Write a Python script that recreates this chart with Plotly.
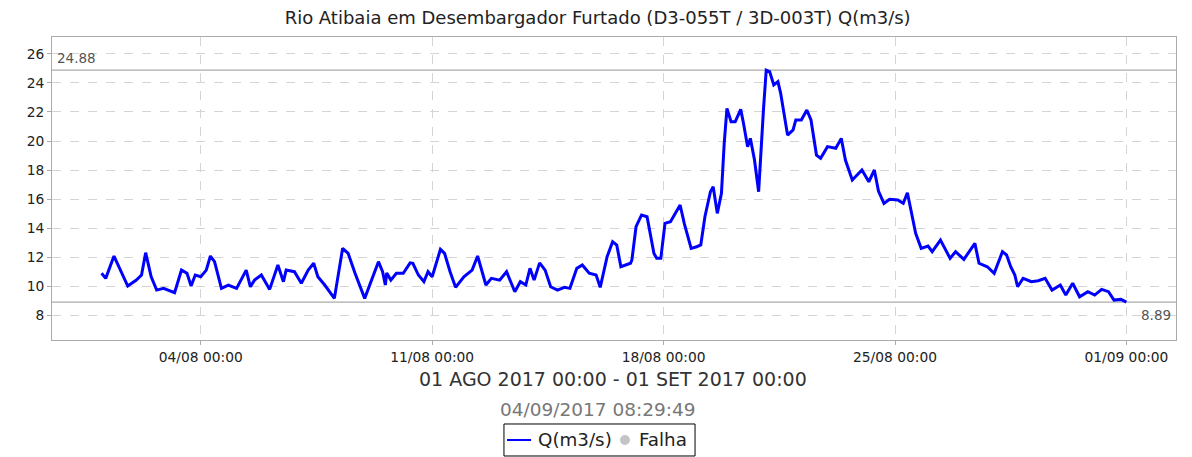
"""Vazão do Rio Atibaia em Desembargador Furtado — agosto 2017."""

import pandas as pd
import plotly.graph_objects as go

# ── Data ──────────────────────────────────────────────────────────────
times = [
    "2017-08-01 00:00", "2017-08-01 03:00", "2017-08-01 09:00", "2017-08-01 13:00",
    "2017-08-01 19:00", "2017-08-02 01:00", "2017-08-02 05:00", "2017-08-02 08:00",
    "2017-08-02 12:00", "2017-08-02 16:00", "2017-08-02 21:00", "2017-08-03 05:00",
    "2017-08-03 10:00", "2017-08-03 14:00", "2017-08-03 17:00", "2017-08-03 20:00",
    "2017-08-04 00:00", "2017-08-04 04:00", "2017-08-04 07:00", "2017-08-04 10:00",
    "2017-08-04 15:00", "2017-08-04 20:00", "2017-08-05 02:00", "2017-08-05 09:00",
    "2017-08-05 12:00", "2017-08-05 15:00", "2017-08-05 20:00", "2017-08-06 02:00",
    "2017-08-06 08:00", "2017-08-06 12:00", "2017-08-06 14:00", "2017-08-06 20:00",
    "2017-08-07 01:00", "2017-08-07 06:00", "2017-08-07 10:00", "2017-08-07 13:00",
    "2017-08-07 18:00", "2017-08-08 01:00", "2017-08-08 07:00", "2017-08-08 11:00",
    "2017-08-08 16:00", "2017-08-08 23:00", "2017-08-09 05:00", "2017-08-09 09:00",
    "2017-08-09 12:00", "2017-08-09 14:00", "2017-08-09 15:00", "2017-08-09 18:00",
    "2017-08-09 22:00", "2017-08-10 03:00", "2017-08-10 08:00", "2017-08-10 10:00",
    "2017-08-10 14:00", "2017-08-10 18:00", "2017-08-10 21:00", "2017-08-11 00:00",
    "2017-08-11 06:00", "2017-08-11 09:00", "2017-08-11 13:00", "2017-08-11 17:00",
    "2017-08-11 23:00", "2017-08-12 05:00", "2017-08-12 09:00", "2017-08-12 12:00",
    "2017-08-12 15:00", "2017-08-12 19:00", "2017-08-13 01:00", "2017-08-13 06:00",
    "2017-08-13 09:00", "2017-08-13 12:00", "2017-08-13 16:00", "2017-08-13 20:00",
    "2017-08-13 23:00", "2017-08-14 02:00", "2017-08-14 06:00", "2017-08-14 10:00",
    "2017-08-14 14:00", "2017-08-14 19:00", "2017-08-15 00:00", "2017-08-15 04:00",
    "2017-08-15 09:00", "2017-08-15 13:00", "2017-08-15 18:00", "2017-08-15 23:00",
    "2017-08-16 02:00", "2017-08-16 07:00", "2017-08-16 11:00", "2017-08-16 14:00",
    "2017-08-16 17:00", "2017-08-16 20:00", "2017-08-17 00:00", "2017-08-17 01:00",
    "2017-08-17 04:00", "2017-08-17 08:00", "2017-08-17 12:00", "2017-08-17 17:00",
    "2017-08-17 19:00", "2017-08-17 22:00", "2017-08-18 01:00", "2017-08-18 05:00",
    "2017-08-18 09:00", "2017-08-18 12:00", "2017-08-18 15:00", "2017-08-18 20:00",
    "2017-08-19 00:00", "2017-08-19 03:00", "2017-08-19 06:00", "2017-08-19 10:00",
    "2017-08-19 12:00", "2017-08-19 15:00", "2017-08-19 18:00", "2017-08-19 20:00",
    "2017-08-19 22:00", "2017-08-20 01:00", "2017-08-20 04:00", "2017-08-20 08:00",
    "2017-08-20 10:00", "2017-08-20 13:00", "2017-08-20 15:00", "2017-08-20 18:00",
    "2017-08-20 21:00", "2017-08-20 23:00", "2017-08-21 00:30", "2017-08-21 02:30",
    "2017-08-21 05:00", "2017-08-21 08:00", "2017-08-21 11:00", "2017-08-21 13:00",
    "2017-08-21 18:00", "2017-08-21 22:00", "2017-08-22 00:00", "2017-08-22 04:00",
    "2017-08-22 08:00", "2017-08-22 11:00", "2017-08-22 15:00", "2017-08-22 18:00",
    "2017-08-22 23:00", "2017-08-23 05:00", "2017-08-23 09:00", "2017-08-23 12:00",
    "2017-08-23 17:00", "2017-08-24 00:00", "2017-08-24 05:00", "2017-08-24 09:00",
    "2017-08-24 12:00", "2017-08-24 16:00", "2017-08-24 20:00", "2017-08-25 02:00",
    "2017-08-25 06:00", "2017-08-25 09:00", "2017-08-25 13:00", "2017-08-25 15:00",
    "2017-08-25 19:00", "2017-08-26 00:00", "2017-08-26 03:00", "2017-08-26 09:00",
    "2017-08-26 16:00", "2017-08-26 20:00", "2017-08-27 02:00", "2017-08-27 06:00",
    "2017-08-27 10:00", "2017-08-27 13:00", "2017-08-27 19:00", "2017-08-28 00:00",
    "2017-08-28 04:00", "2017-08-28 06:00", "2017-08-28 09:00", "2017-08-28 12:00",
    "2017-08-28 15:00", "2017-08-28 17:00", "2017-08-28 21:00", "2017-08-29 03:00",
    "2017-08-29 08:00", "2017-08-29 13:00", "2017-08-29 18:00", "2017-08-30 00:00",
    "2017-08-30 04:00", "2017-08-30 09:00", "2017-08-30 14:00", "2017-08-30 20:00",
    "2017-08-31 01:00", "2017-08-31 06:00", "2017-08-31 11:00", "2017-08-31 15:00",
    "2017-08-31 20:00", "2017-09-01 00:00",
]
vazao = [
    10.88, 10.53, 12.07, 11.20, 10.00, 10.40, 10.76, 12.30,
    10.64, 9.72, 9.84, 9.54, 11.10, 10.88, 10.00, 10.76,
    10.64, 11.10, 12.07, 11.68, 9.84, 10.07, 9.84, 11.10,
    9.95, 10.41, 10.76, 9.77, 11.45, 10.30, 11.10, 10.99,
    10.19, 11.10, 11.57, 10.64, 10.07, 9.15, 12.60, 12.25,
    10.88, 9.15, 10.64, 11.68, 10.99, 10.07, 10.90, 10.41,
    10.88, 10.88, 11.60, 11.57, 10.76, 10.30, 10.99, 10.64,
    12.53, 12.25, 10.99, 9.91, 10.64, 11.10, 12.07, 10.99,
    10.07, 10.53, 10.41, 10.99, 10.30, 9.61, 10.30, 10.07,
    11.22, 10.41, 11.60, 11.10, 9.95, 9.72, 9.91, 9.84,
    11.22, 11.45, 10.88, 10.76, 9.91, 12.02, 13.06, 12.83,
    11.33, 11.45, 11.57, 11.80, 14.09, 14.90, 14.78, 12.25,
    11.91, 11.91, 14.32, 14.43, 15.12, 15.59, 14.32, 12.60,
    12.71, 12.83, 14.78, 16.50, 16.85, 15.01, 16.39, 19.84,
    22.25, 21.33, 21.33, 22.18, 21.22, 19.61, 20.18, 18.69,
    16.50, 20.30, 22.14, 24.88, 24.78, 23.86, 24.09, 23.29,
    20.41, 20.76, 21.45, 21.45, 22.14, 21.45, 19.03, 18.81,
    19.61, 19.50, 20.18, 18.69, 17.31, 18.00, 17.19, 18.00,
    16.55, 15.70, 15.98, 15.93, 15.70, 16.43, 14.67, 13.63,
    12.60, 12.76, 12.37, 13.17, 11.91, 12.37, 11.84, 12.37,
    12.94, 11.57, 11.33, 10.88, 11.80, 12.37, 12.14, 11.33,
    10.76, 9.95, 10.53, 10.30, 10.37, 10.53, 9.72, 10.07,
    9.38, 10.19, 9.26, 9.61, 9.38, 9.77, 9.61, 9.03,
    9.08, 8.89,
]
x_ticks = ["2017-08-04", "2017-08-11", "2017-08-18", "2017-08-25", "2017-09-01"]
y_ticks = [8, 10, 12, 14, 16, 18, 20, 22, 24, 26]
q_max = 24.88
q_min = 8.89

FONT = "DejaVu Sans"
GRID = "#d4d4d4"
FRAME = "#ababab"
BLUE = "#0000ff"

df = pd.DataFrame({"t": pd.to_datetime(times), "q": vazao})

fig = go.Figure()

# limites máximo / mínimo
for level in (q_max, q_min):
    fig.add_hline(y=level, line=dict(color=FRAME, width=1.2), layer="below")

fig.add_trace(
    go.Scatter(
        x=df["t"], y=df["q"], mode="lines", name="Q(m3/s)",
        line=dict(color=BLUE, width=3), showlegend=False,
    )
)

fig.add_annotation(
    x=0, xref="paper", y=q_max, yref="y", text=f"{q_max:.2f}",
    xanchor="left", yanchor="middle", xshift=3, yshift=12,
    showarrow=False, font=dict(family=FONT, size=13.5, color="#555"),
)
fig.add_annotation(
    x=1, xref="paper", y=q_min, yref="y", text=f"{q_min:.2f}",
    xanchor="right", yanchor="middle", xshift=-3, yshift=-13,
    showarrow=False, font=dict(family=FONT, size=13.5, color="#555"),
)
fig.add_annotation(
    x=0.499, xref="paper", y=-0.1287, yref="paper",
    text="01 AGO 2017 00:00 - 01 SET 2017 00:00",
    xanchor="center", yanchor="middle", showarrow=False,
    font=dict(family=FONT, size=19, color="#333"),
)
fig.add_annotation(
    x=0.4862, xref="paper", y=-0.231, yref="paper",
    text="04/09/2017 08:29:49",
    xanchor="center", yanchor="middle", showarrow=False,
    font=dict(family=FONT, size=18.5, color="#777"),
)

# ── Legend box (drawn by hand to match the compact original) ──────────
fig.add_shape(
    type="rect", xref="paper", yref="paper",
    x0=0.4021, x1=0.5721, y0=-0.3828, y1=-0.2772,
    line=dict(color="#000", width=1), fillcolor="white",
)
fig.add_shape(
    type="line", xref="paper", yref="paper",
    x0=0.4048, x1=0.4262, y0=-0.33, y1=-0.33,
    line=dict(color=BLUE, width=2),
)
fig.add_shape(
    type="circle", xref="paper", yref="paper",
    x0=0.5053, x1=0.5142, y0=-0.3465, y1=-0.3135,
    line=dict(color="#c4c4c4", width=0), fillcolor="#c4c4c4",
)
for label, lx in (("Q(m3/s)", 0.4306), ("Falha", 0.5205)):
    fig.add_annotation(
        x=lx, xref="paper", y=-0.33, yref="paper", text=label,
        xanchor="left", yanchor="middle", showarrow=False,
        font=dict(family=FONT, size=18.3, color="#222"),
    )

axis_common = dict(
    showline=True, linecolor=FRAME, linewidth=1, mirror=True,
    showgrid=True, gridcolor=GRID, griddash="dash", gridwidth=1,
    ticks="outside", tickcolor=FRAME, ticklen=4, automargin=False,
    tickfont=dict(family=FONT, size=13.8, color="#222"), zeroline=False,
)

# the page body adds an 8px offset, so the figure is 8px smaller than the window
fig.update_layout(
    width=1184, height=449,
    margin=dict(l=44, r=16, t=29, b=117, autoexpand=False),
    paper_bgcolor="white", plot_bgcolor="white",
    font=dict(family=FONT),
    title=dict(
        text="Rio Atibaia em Desembargador Furtado (D3-055T / 3D-003T) Q(m3/s)",
        x=0.498, xanchor="center", y=1, yanchor="top", pad=dict(t=3),
        font=dict(family=FONT, size=18, color="#222"),
    ),
    xaxis=dict(
        range=["2017-07-30 12:00", "2017-09-02 12:00"],
        tickvals=x_ticks, tickformat="%d/%m %H:%M",
        **axis_common,
    ),
    yaxis=dict(range=[6.28, 27.17], tickvals=y_ticks, **axis_common),
    showlegend=False,
)

fig.write_html("out.html")
